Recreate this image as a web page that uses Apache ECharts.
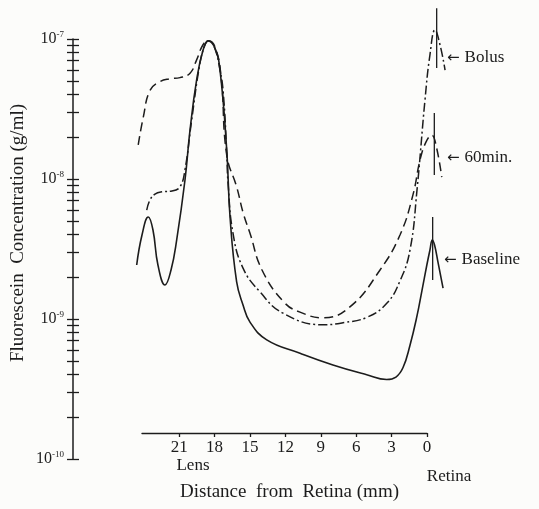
<!DOCTYPE html>
<html><head><meta charset="utf-8">
<script src="https://cdn.jsdelivr.net/npm/echarts@6/dist/echarts.min.js"></script>
<style>html,body{margin:0;padding:0;background:#fcfcfa}#c{width:539px;height:509px}</style>
</head><body><div id="c"></div>
<script>
// ---- Data (distance from retina in mm, fluorescein concentration in g/ml) ----
const xTickValues = [0, 3, 6, 9, 12, 15, 18, 21];
const yDecades = [1e-10, 1e-9, 1e-8, 1e-7];
const yTickValues = [
  1e-10, 2e-10, 3e-10, 4e-10, 5e-10, 6e-10, 7e-10, 8e-10, 9e-10,
  1e-9, 2e-9, 3e-9, 4e-9, 5e-9, 6e-9, 7e-9, 8e-9, 9e-9,
  1e-8, 2e-8, 3e-8, 4e-8, 5e-8, 6e-8, 7e-8, 8e-8, 9e-8, 1e-7
];

const baselineDist = [24.60, 24.15, 23.62, 23.22, 22.80, 22.20, 21.69, 21.21, 20.51, 20.08, 19.52, 18.98, 18.53, 17.97, 17.54, 16.97, 16.69, 16.13, 15.59, 15.00, 13.58, 10.76, 7.97, 5.11, 3.42, 2.63, 2.03, 1.44, 0.87, 0.42, 0.03, -0.25, -0.45, -0.64, -0.93, -1.36];
const baselineConc = [2.43e-9, 3.98e-9, 5.35e-9, 4.32e-9, 2.43e-9, 1.75e-9, 2.24e-9, 3.67e-9, 9.8e-9, 2.24e-8, 5.1e-8, 8.3e-8, 9.7e-8, 8.6e-8, 6.0e-8, 1.61e-8, 5.35e-9, 1.84e-9, 1.26e-9, 9.5e-10, 7.1e-10, 5.7e-10, 4.7e-10, 4.0e-10, 3.7e-10, 3.85e-10, 4.5e-10, 6.5e-10, 1.03e-9, 1.61e-9, 2.39e-9, 3.11e-9, 3.67e-9, 3.38e-9, 2.55e-9, 1.66e-9];

const bolusDist = [23.75, 23.47, 23.05, 22.46, 21.61, 20.93, 20.51, 19.94, 19.24, 18.81, 18.53, 18.05, 17.54, 17.26, 16.97, 16.86, 16.44, 15.59, 14.15, 12.20, 8.81, 7.12, 5.08, 3.39, 2.29, 1.44, 0.85, 0.17, -0.25, -0.68, -1.10, -1.53];
const bolusConc = [6.0e-9, 7.1e-9, 7.8e-9, 8.1e-9, 8.2e-9, 8.8e-9, 1.16e-8, 2.64e-8, 6.7e-8, 9.1e-8, 9.7e-8, 8.9e-8, 6.0e-8, 4.1e-8, 1.53e-8, 9.4e-9, 4.1e-9, 2.31e-9, 1.56e-9, 1.10e-9, 9.1e-10, 9.4e-10, 1.03e-9, 1.30e-9, 1.87e-9, 3.11e-9, 8.3e-9, 3.67e-8, 7.7e-8, 1.16e-7, 9.1e-8, 6.0e-8];

const min60Dist = [24.47, 24.04, 23.47, 22.63, 21.78, 20.93, 20.08, 19.52, 18.98, 18.53, 17.97, 17.46, 16.97, 16.13, 15.57, 15.00, 13.98, 12.12, 10.76, 8.81, 6.53, 3.98, 2.29, 1.19, 0.59, 0.08, -0.40, -0.76, -1.25];
const min60Conc = [1.75e-8, 2.77e-8, 4.3e-8, 4.96e-8, 5.2e-8, 5.3e-8, 5.7e-8, 7.1e-8, 9.1e-8, 9.7e-8, 8.8e-8, 5.5e-8, 1.48e-8, 8.8e-9, 5.7e-9, 4.1e-9, 2.24e-9, 1.32e-9, 1.12e-9, 1.02e-9, 1.22e-9, 2.24e-9, 3.98e-9, 7.7e-9, 1.37e-8, 1.84e-8, 2.06e-8, 1.75e-8, 1.03e-8];

// Retina reference strokes (one per curve): distance, top and bottom concentration
const retinaMarkNames = ['Bolus', '60min.', 'Baseline'];
const retinaMarkDist = [-0.82, -0.62, -0.48];
const retinaMarkTop = [1.66e-7, 2.96e-8, 5.35e-9];
const retinaMarkBottom = [6.2e-8, 1.07e-8, 1.9e-9];

// ---- Chart ----
const serif = '"Liberation Serif","DejaVu Serif",serif';
const ink = '#1c1c1c';
const pairs = (xs, ys) => xs.map((x, i) => [x, ys[i]]);

// scale: visible x axis runs 0..24.15 mm over 142..427 px
const xAxisMax = 24.15, xLeftPx = 142, xRightPx = 427;
const pxPerMm = (xRightPx - xLeftPx) / xAxisMax;
const dataXMin = -1.7, dataXMax = 24.7;
// y: 1e-10 at 459 px, 1e-7 at 39 px
const yBottomPx = 459, yTopPx = 39, pxPerDecade = (yBottomPx - yTopPx) / 3;
const dataYMaxExp = -6.75;

const curveBase = {
  type: 'line', xAxisIndex: 3, yAxisIndex: 3, symbol: 'none', showSymbol: false,
  smooth: 0.45, clip: false, silent: true
};

const series = [
  Object.assign({}, curveBase, { name: 'Baseline', data: pairs(baselineDist, baselineConc),
    lineStyle: { color: ink, width: 1.6, type: 'solid' } }),
  Object.assign({}, curveBase, { name: 'Bolus', data: pairs(bolusDist, bolusConc),
    lineStyle: { color: ink, width: 1.5, type: [9, 3, 2, 3] } }),
  Object.assign({}, curveBase, { name: '60min.', data: pairs(min60Dist, min60Conc),
    lineStyle: { color: ink, width: 1.5, type: [9, 5] } })
];
retinaMarkDist.forEach((d, i) => {
  series.push({ type: 'line', xAxisIndex: 3, yAxisIndex: 3, symbol: 'none', clip: false, silent: true,
    name: retinaMarkNames[i] + ' retina',
    data: [[d, retinaMarkTop[i]], [d, retinaMarkBottom[i]]],
    lineStyle: { color: ink, width: 1.3 } });
});

const logFmt = v => '{b|10}{s|-' + Math.round(-Math.log10(v)) + '}';
const supRich = {
  b: { fontSize: 16, fontFamily: serif, color: ink, lineHeight: 18 },
  s: { fontSize: 9, fontFamily: serif, color: ink, verticalAlign: 'top', lineHeight: 18 }
};
const hiddenX = i => ({ gridIndex: i, type: 'value', show: false });
const arrowLabel = (txt) => ({
  text: '{a|←}{t|' + txt + '}',
  rich: { a: { font: '15px "DejaVu Sans"', fill: ink, padding: [0, 5, 0, 0] }, t: { font: '17px ' + serif, fill: ink } },
  verticalAlign: 'middle'
});

const option = {
  backgroundColor: '#fcfcfa',
  animation: false,
  grid: [
    { left: 73, top: yTopPx, width: 1, height: yBottomPx - yTopPx },
    { left: 79, top: yTopPx, width: 1, height: yBottomPx - yTopPx },
    { left: xLeftPx, width: xRightPx - xLeftPx, top: yTopPx, height: yBottomPx - yTopPx },
    { left: xRightPx - dataXMax * pxPerMm, width: (dataXMax - dataXMin) * pxPerMm,
      top: yTopPx - (dataYMaxExp + 7) * pxPerDecade,
      height: (dataYMaxExp + 10) * pxPerDecade }
  ],
  xAxis: [
    hiddenX(0), hiddenX(1),
    { gridIndex: 2, type: 'value', inverse: true, min: 0, max: xAxisMax, offset: -26,
      axisLine: { show: true, lineStyle: { color: ink, width: 1.4 } },
      axisTick: { show: true, customValues: xTickValues, length: 4, lineStyle: { color: ink, width: 1.3 } },
      axisLabel: { customValues: xTickValues, color: ink, fontFamily: serif, fontSize: 17, margin: 6 },
      splitLine: { show: false },
      name: 'Distance  from  Retina (mm)', nameLocation: 'middle', nameGap: 50,
      nameTextStyle: { color: ink, fontFamily: serif, fontSize: 19, padding: [0, 0, 0, 10] } },
    { gridIndex: 3, type: 'value', inverse: true, min: dataXMin, max: dataXMax, show: false }
  ],
  yAxis: [
    { gridIndex: 0, type: 'log', position: 'left', min: 1e-10, max: 1e-7,
      axisLine: { show: true, lineStyle: { color: ink, width: 1.5 } },
      axisTick: { show: false },
      axisLabel: { customValues: yDecades, formatter: logFmt, rich: supRich, margin: 9 },
      splitLine: { show: false } },
    { gridIndex: 1, type: 'log', position: 'left', min: 1e-10, max: 1e-7,
      axisLine: { show: false },
      axisTick: { show: true, customValues: yTickValues, length: 12, lineStyle: { color: ink, width: 1.3 } },
      axisLabel: { show: false },
      splitLine: { show: false } },
    { gridIndex: 2, type: 'log', min: 1e-10, max: 1e-7, show: false },
    { gridIndex: 3, type: 'log', min: 1e-10, max: Math.pow(10, dataYMaxExp), show: false }
  ],
  graphic: [
    { type: 'text', x: 18, y: 233, rotation: Math.PI / 2,
      style: { text: 'Fluorescein  Concentration (g/ml)', font: '19px ' + serif, fill: ink, align: 'center', verticalAlign: 'middle' } },
    { type: 'text', x: 193, y: 466, style: { text: 'Lens', font: '17px ' + serif, fill: ink, align: 'center', verticalAlign: 'middle' } },
    { type: 'text', x: 449, y: 477, style: { text: 'Retina', font: '17px ' + serif, fill: ink, align: 'center', verticalAlign: 'middle' } },
    { type: 'text', x: 447, y: 58, style: arrowLabel('Bolus') },
    { type: 'text', x: 447, y: 158, style: arrowLabel('60min.') },
    { type: 'text', x: 444, y: 260, style: arrowLabel('Baseline') }
  ],
  series: series
};

const chart = echarts.init(document.getElementById('c'), null, { renderer: 'canvas' });
chart.setOption(option);
</script>
</body></html>
